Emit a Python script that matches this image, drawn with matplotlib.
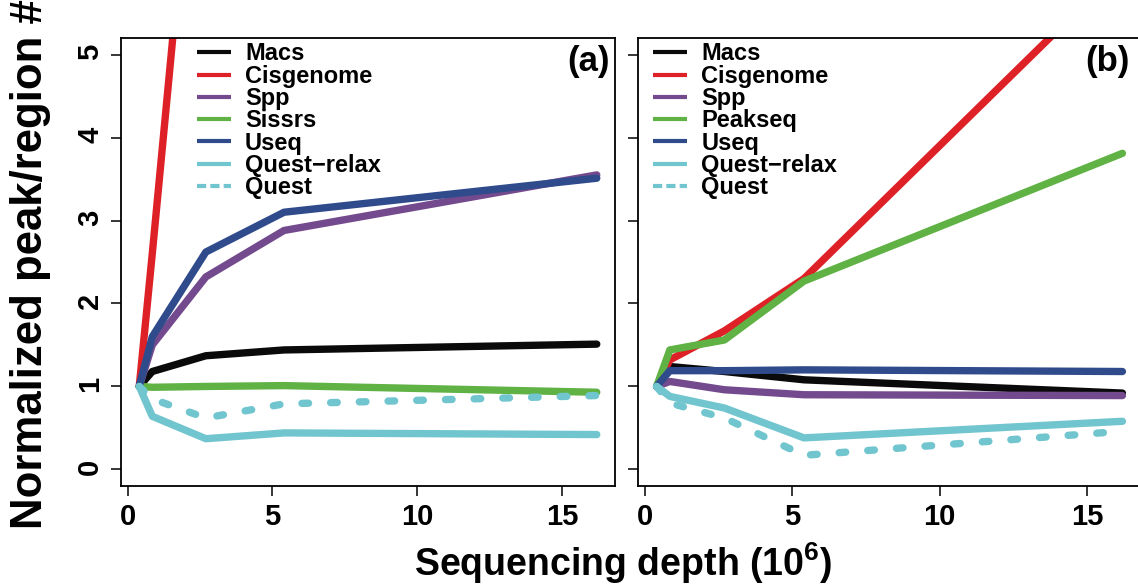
import matplotlib
matplotlib.use("Agg")
import matplotlib.pyplot as plt

plt.rcParams['font.family'] = ['Liberation Sans', 'DejaVu Sans']
plt.rcParams['font.weight'] = 'bold'
plt.rcParams['mathtext.fontset'] = 'custom'
plt.rcParams['mathtext.rm'] = 'Liberation Sans:bold'
plt.rcParams['mathtext.bf'] = 'Liberation Sans:bold'

# sequencing depth (millions of reads) for the subsampled runs
depth = [0.4, 0.85, 2.7, 5.4, 16.2]

# panel (a)
labels_a = ['Macs', 'Cisgenome', 'Spp', 'Sissrs', 'Useq', 'Quest\u2212relax', 'Quest']
macs_a = [1.0, 1.18, 1.37, 1.44, 1.51]
cisgenome_a = [1.0, 2.6, 9.4, 18.0, 52.0]
spp_a = [1.0, 1.50, 2.32, 2.88, 3.55]
sissrs_a = [1.0, 0.99, 1.0, 1.01, 0.93]
useq_a = [1.0, 1.60, 2.62, 3.10, 3.51]
quest_relax_a = [1.0, 0.64, 0.37, 0.44, 0.42]
quest_a = [1.0, 0.85, 0.62, 0.79, 0.89]

# panel (b)
labels_b = ['Macs', 'Cisgenome', 'Spp', 'Peakseq', 'Useq', 'Quest\u2212relax', 'Quest']
macs_b = [1.0, 1.24, 1.18, 1.08, 0.92]
cisgenome_b = [1.0, 1.32, 1.67, 2.30, 6.06]
spp_b = [1.0, 1.06, 0.96, 0.90, 0.89]
peakseq_b = [1.0, 1.44, 1.56, 2.27, 3.81]
useq_b = [1.0, 1.19, 1.19, 1.20, 1.18]
quest_relax_b = [1.0, 0.88, 0.74, 0.38, 0.58]
quest_b = [1.0, 0.80, 0.62, 0.17, 0.46]

colors = ['#0a0a0a', '#dd2127', '#744a8e', '#5fb243', '#2f4b8c', '#71c5ce', '#71c5ce']
dashed = [False, False, False, False, False, False, True]

fig = plt.figure(figsize=(11.38, 5.85), dpi=100)
ax_a = fig.add_axes([121 / 1138, 1 - 486 / 585, 494 / 1138, 448 / 585])
ax_b = fig.add_axes([638 / 1138, 1 - 486 / 585, 503 / 1138, 448 / 585])


def draw_panel(ax, series, labels, tag):
    for vals, lab, col, dsh in zip(series, labels, colors, dashed):
        line, = ax.plot(depth, vals, color=col, lw=5.3, label=lab,
                        solid_capstyle='round', solid_joinstyle='round')
        if dsh:
            line.set_dashes((0.9, 3.0))
            line.set_dash_capstyle('round')
    ax.set_xlim(-0.23, 16.83)
    ax.set_ylim(-0.2, 5.2)
    ax.set_xticks([0, 5, 10, 15])
    ax.set_yticks([0, 1, 2, 3, 4, 5])
    ax.tick_params(length=7, width=1.1, labelsize=21)
    ax.tick_params(axis='x', pad=5)
    ax.tick_params(axis='y', labelrotation=90, pad=5)
    for sp in ax.spines.values():
        sp.set_linewidth(1.3)
    leg = ax.legend(loc='upper left', bbox_to_anchor=(0.153 if tag == '(a)' else 0.03, 0.99),
                    frameon=False, fontsize=17, handlelength=1.45, handletextpad=0.6,
                    labelspacing=-0.03, borderpad=0, borderaxespad=0)
    for hl in leg.get_lines():
        hl.set_linewidth(3)
        hl.set_solid_capstyle('butt')
    qh = leg.get_lines()[-1]
    qh.set_dashes((2.2, 1.0))
    qh.set_dash_capstyle('butt')
    ax.text(0.99 if tag == '(a)' else 0.978, 0.985, tag, transform=ax.transAxes,
            ha='right', va='top', fontsize=25, fontweight='bold')


draw_panel(ax_a, [macs_a, cisgenome_a, spp_a, sissrs_a, useq_a, quest_relax_a, quest_a],
           labels_a, '(a)')
draw_panel(ax_b, [macs_b, cisgenome_b, spp_b, peakseq_b, useq_b, quest_relax_b, quest_b],
           labels_b, '(b)')
ax_b.set_yticklabels([])

fig.text(31 / 1138, 1 - 264 / 585, 'Normalized peak/region #', rotation=90,
         ha='center', va='center', fontsize=31.5, fontweight='bold')
fig.text(623 / 1138, 1 - 576 / 585, 'Sequencing depth (10$^{6}$)',
         ha='center', va='baseline', fontsize=27, fontweight='bold')

fig.savefig('out.png', dpi=100)
